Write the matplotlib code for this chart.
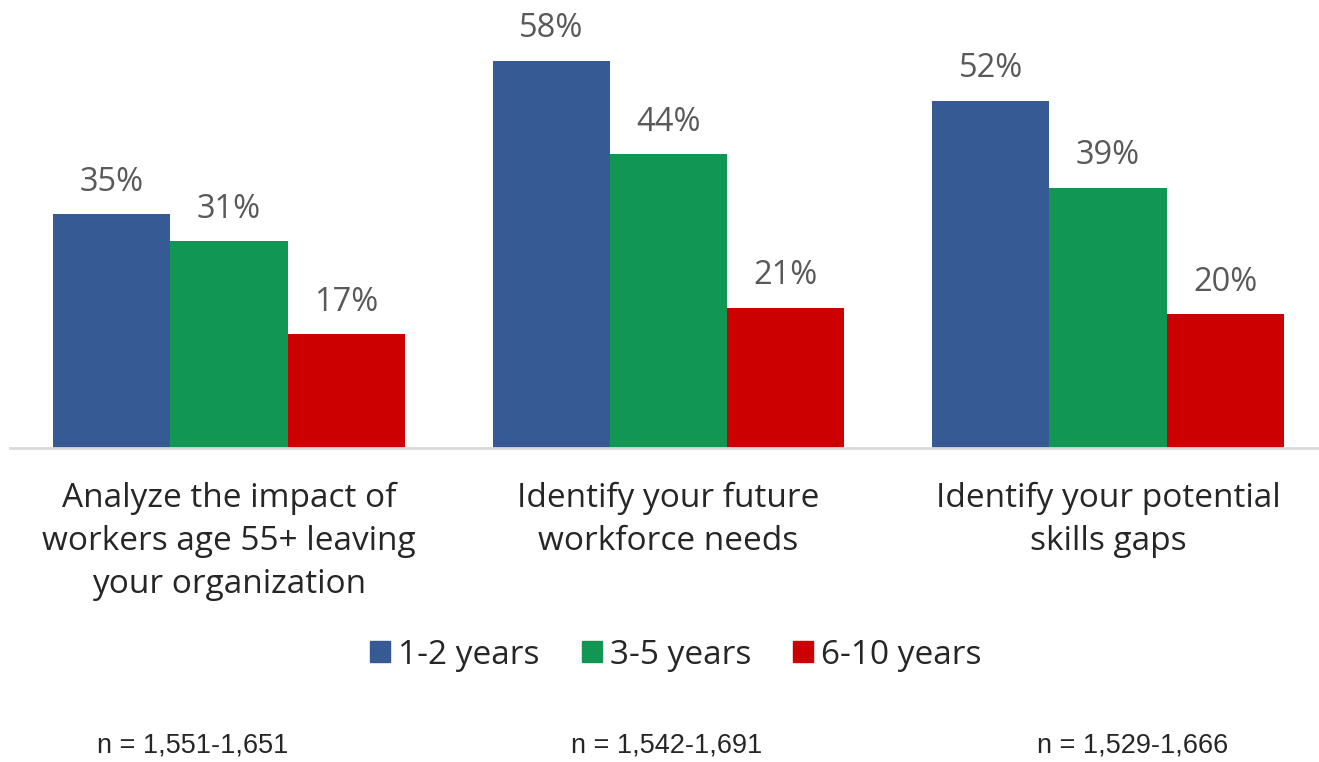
import numpy as np
import matplotlib

matplotlib.use("agg")
import matplotlib.pyplot as plt
from matplotlib.patches import Patch

plt.rcParams['font.family'] = ['Open Sans', 'DejaVu Sans']

categories = ["Analyze the impact of\nworkers age 55+ leaving\nyour organization",
              "Identify your future\nworkforce needs",
              "Identify your potential\nskills gaps"]
series = ["1-2 years", "3-5 years", "6-10 years"]
values = [[35, 58, 52],
          [31, 44, 39],
          [17, 21, 20]]
colors = ["#365A93", "#129654", "#CC0000"]
n_labels = ["n = 1,551-1,651", "n = 1,542-1,691", "n = 1,529-1,666"]

W, H = 1319, 762
fig = plt.figure(figsize=(W / 100, H / 100), dpi=100)
ax = fig.add_axes([10 / W, 1 - 448 / H, 1 - 10 / W, 448 / H])

x = np.arange(len(categories))
bw = 0.8 / 3
for i, (name, vals, c) in enumerate(zip(series, values, colors)):
    pos = x + (i - 1) * bw
    ax.bar(pos, vals, width=bw, color=c, edgecolor="none", label=name)
    for p, v in zip(pos, vals):
        ax.text(p, v + 2.3, f"{v}%", ha="center", va="bottom",
                fontsize=23.5, color="#595959")

ax.set_xlim(-0.498, 2.480)
ax.set_ylim(0, 67.1)
for s in ["top", "right", "left"]:
    ax.spines[s].set_visible(False)
ax.spines["bottom"].set_color("#D9D9D9")
ax.spines["bottom"].set_linewidth(2)
ax.set_yticks([])
ax.set_xticks(x)
ax.set_xticklabels(categories, fontsize=24, color="#262626", linespacing=1.4)
ax.tick_params(axis="x", length=0, pad=24)

handles = [Patch(color=c, label=s) for s, c in zip(series, colors)]
fig.legend(handles=handles, loc="center", bbox_to_anchor=(676 / W, 1 - 655 / H),
           ncol=3, frameon=False, fontsize=24, handlelength=0.6, handleheight=0.6,
           handletextpad=0.25, columnspacing=1.25, labelcolor="#262626")

for xc, t in zip([193, 667, 1133], n_labels):
    fig.text(xc / W, 1 - 745 / H, t, ha="center", va="center", fontsize=19.5,
             color="#262626", family=["Liberation Sans", "DejaVu Sans"])

fig.savefig("out.png", dpi=100)
